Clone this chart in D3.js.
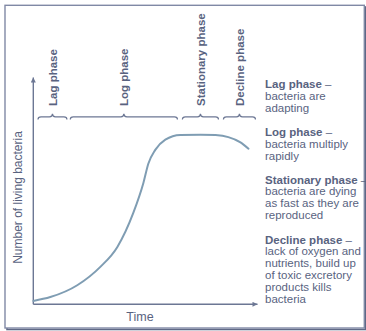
<!DOCTYPE html>
<html>
<head>
<meta charset="utf-8">
<script src="https://cdn.jsdelivr.net/npm/d3@7/dist/d3.min.js"></script>
<style>
  html, body { margin: 0; padding: 0; background: #fff; }
  svg { display: block; }
  text { font-family: "Liberation Sans", Arial, Helvetica, sans-serif; }
</style>
</head>
<body>
<svg id="chart" width="366" height="331"></svg>
<script>
// Bacterial growth curve: time (arbitrary units 0–10) vs. number of living bacteria (0–100)
const curveTime  = [0, 0.76, 1.96, 2.99, 3.75, 4.46, 4.91, 5.13, 5.44, 5.89, 6.56, 7.46, 8.13, 8.7, 9.24, 9.6];
const curveCount = [1.5, 3.2, 8.4, 16.5, 25.3, 40.3, 53.5, 62.0, 68.1, 72.6, 74.7, 74.8, 74.6, 73.7, 71.4, 68.6];

// Growth phases and their time spans
const phaseNames = ["Lag phase", "Log phase", "Stationary phase", "Decline phase"];
const phaseStart = [0.21, 1.65, 6.65, 8.48];
const phaseEnd   = [1.5, 6.43, 8.26, 9.91];

// Side notes: bold heading + description lines
const noteHeads = ["Lag phase", "Log phase", "Stationary phase", "Decline phase"];
const noteLines = [
  ["bacteria are", "adapting"],
  ["bacteria multiply", "rapidly"],
  ["bacteria are dying", "as fast as they are", "reproduced"],
  ["lack of oxygen and", "nutrients, build up", "of toxic excretory", "products kills", "bacteria"]
];

const axisTitleX = "Time";
const axisTitleY = "Number of living bacteria";

const textColor = "#59637f";
const lineColor = "#6c7794";
const curveColor = "#7f9db3";

const svg = d3.select("#chart");

// Frame with a soft drop shadow along the bottom/right
svg.append("rect").attr("x", 7).attr("y", 7).attr("width", 358.5).attr("height", 322.5)
  .attr("fill", "none").attr("stroke", "#5f6886").attr("stroke-width", 1.6);
svg.append("rect").attr("x", 5).attr("y", 5.3).attr("width", 359.3).attr("height", 322.7)
  .attr("fill", "#fff").attr("stroke", "#8089a5").attr("stroke-width", 1.4);

const x = d3.scaleLinear().domain([0, 10]).range([33.3, 257.5]);
const y = d3.scaleLinear().domain([0, 100]).range([304.3, 77.5]);

// Axes with arrowheads
const defs = svg.append("defs");
defs.append("marker").attr("id", "arrow").attr("viewBox", "0 0 10 10")
  .attr("refX", 10).attr("refY", 5).attr("markerWidth", 6).attr("markerHeight", 5)
  .attr("markerUnits", "userSpaceOnUse").attr("orient", "auto")
  .append("path").attr("d", "M0,0 L10,5 L0,10 Z").attr("fill", lineColor);

svg.append("line")
  .attr("x1", x(0)).attr("y1", y(0)).attr("x2", x(0)).attr("y2", y(100))
  .attr("stroke", lineColor).attr("stroke-width", 1.4).attr("marker-end", "url(#arrow)");
svg.append("line")
  .attr("x1", x(0)).attr("y1", y(0)).attr("x2", x(10)).attr("y2", y(0))
  .attr("stroke", lineColor).attr("stroke-width", 1.4).attr("marker-end", "url(#arrow)");

// Growth curve
const pts = curveTime.map((t, i) => [t, curveCount[i]]);
svg.append("path")
  .datum(pts)
  .attr("fill", "none")
  .attr("stroke", curveColor)
  .attr("stroke-width", 2)
  .attr("stroke-linecap", "round")
  .attr("d", d3.line().x(d => x(d[0])).y(d => y(d[1])).curve(d3.curveMonotoneX));

// Braces over each phase
const braceY = 116.8;
function bracePath(x0, x1) {
  const xm = (x0 + x1) / 2, r = 3;
  return `M${x0},${braceY + 2.6} Q${x0},${braceY} ${x0 + r},${braceY}` +
         ` L${xm - r},${braceY} Q${xm},${braceY} ${xm},${braceY - 3}` +
         ` Q${xm},${braceY} ${xm + r},${braceY}` +
         ` L${x1 - r},${braceY} Q${x1},${braceY} ${x1},${braceY + 2.6}`;
}
svg.selectAll(".brace").data(phaseNames).join("path")
  .attr("class", "brace")
  .attr("fill", "none").attr("stroke", lineColor).attr("stroke-width", 1.2)
  .attr("d", (d, i) => bracePath(x(phaseStart[i]), x(phaseEnd[i])));

// Rotated phase labels above the braces
svg.selectAll(".phase").data(phaseNames).join("text")
  .attr("class", "phase")
  .attr("transform", (d, i) => `translate(${(x(phaseStart[i]) + x(phaseEnd[i])) / 2},106) rotate(-90)`)
  .attr("dy", "0.36em")
  .attr("text-anchor", "start")
  .attr("font-size", 11.5)
  .attr("font-weight", "bold")
  .attr("fill", textColor)
  .text(d => d);

// Axis titles
svg.append("text")
  .attr("x", 140).attr("y", 320.5)
  .attr("text-anchor", "middle")
  .attr("font-size", 12.5)
  .attr("fill", textColor)
  .text(axisTitleX);
svg.append("text")
  .attr("transform", "translate(18,197.5) rotate(-90)")
  .attr("dy", "0.36em")
  .attr("text-anchor", "middle")
  .attr("font-size", 12)
  .attr("fill", textColor)
  .text(axisTitleY);

// Side notes
const noteX = 265, lineH = 11.9, noteStart = [88.3, 136, 183.5, 243.5];
noteHeads.forEach((h, i) => {
  const t = svg.append("text").attr("x", noteX).attr("y", noteStart[i])
    .attr("font-size", 11.5).attr("fill", textColor);
  t.append("tspan").attr("font-weight", "bold").text(h);
  t.append("tspan").text(" \u2013");
  noteLines[i].forEach((l, j) => {
    svg.append("text").attr("x", noteX).attr("y", noteStart[i] + lineH * (j + 1))
      .attr("font-size", 11.5).attr("fill", textColor).text(l);
  });
});
</script>
</body>
</html>
